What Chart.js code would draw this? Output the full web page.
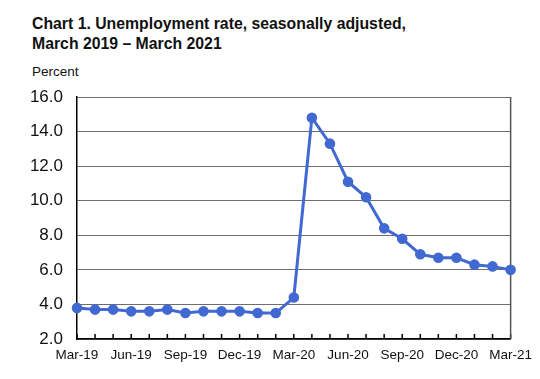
<!DOCTYPE html>
<html>
<head>
<meta charset="utf-8">
<script src="https://cdn.jsdelivr.net/npm/chart.js@4.4.0/dist/chart.umd.min.js"></script>
<style>
  body { margin: 0; background: #fff; font-family: "Liberation Sans", Arial, sans-serif; }
  #wrap { position: relative; width: 540px; height: 379px; }
  #title { position: absolute; left: 32px; top: 14px; font-weight: bold; font-size: 15.8px; line-height: 20px; color: #111; }
  #unit { position: absolute; left: 32px; top: 64px; font-size: 13.5px; line-height: 16px; color: #111; }
  canvas { position: absolute; left: 0; top: 0; }
</style>
</head>
<body>
<div id="wrap">
  <div id="title">Chart 1. Unemployment rate, seasonally adjusted,<br>March 2019 – March 2021</div>
  <div id="unit">Percent</div>
  <canvas id="chart" width="540" height="379"></canvas>
</div>
<script>
// Meses (marzo 2019 - marzo 2021)
const months = [
  'Mar-19', 'Apr-19', 'May-19', 'Jun-19', 'Jul-19', 'Aug-19', 'Sep-19', 'Oct-19', 'Nov-19',
  'Dec-19', 'Jan-20', 'Feb-20', 'Mar-20', 'Apr-20', 'May-20', 'Jun-20', 'Jul-20', 'Aug-20',
  'Sep-20', 'Oct-20', 'Nov-20', 'Dec-20', 'Jan-21', 'Feb-21', 'Mar-21'
];

// Tasa de desempleo (%)
const rates = [
  3.8, 3.7, 3.7, 3.6, 3.6, 3.7, 3.5, 3.6, 3.6, 3.6, 3.5, 3.5,
  4.4, 14.8, 13.3, 11.1, 10.2, 8.4, 7.8, 6.9, 6.7, 6.7, 6.3, 6.2, 6.0
];

// Etiquetas del eje Y
const yMin = 2;
const yMax = 16;
const yStep = 2;

// Marcas pequeñas hacia dentro y borde derecho
const frame = {
  id: 'frame',
  beforeDatasetsDraw(chart) {
    const ctx = chart.ctx;
    const area = chart.chartArea;
    const x = chart.scales.x;
    ctx.save();
    ctx.strokeStyle = '#000';
    ctx.lineWidth = 1.5;
    x.ticks.forEach((t, i) => {
      const px = x.getPixelForTick(i);
      ctx.beginPath();
      ctx.moveTo(px, area.bottom);
      ctx.lineTo(px, area.bottom - 5);
      ctx.stroke();
    });
    ctx.strokeStyle = '#555';
    ctx.beginPath();
    ctx.moveTo(area.right, area.top);
    ctx.lineTo(area.right, area.bottom);
    ctx.stroke();
    ctx.restore();
  }
};

const ctx = document.getElementById('chart').getContext('2d');
new Chart(ctx, {
  type: 'line',
  data: {
    labels: months,
    datasets: [{
      data: rates,
      borderColor: '#4169D1',
      backgroundColor: '#4169D1',
      borderWidth: 3,
      pointRadius: 3.8,
      pointHoverRadius: 3.8,
      tension: 0
    }]
  },
  options: {
    responsive: false,
    animation: false,
    layout: { padding: { left: 0, right: 27, top: 97, bottom: 0 } },
    plugins: { legend: { display: false }, tooltip: { enabled: false } },
    scales: {
      x: {
        offset: false,
        grid: { display: false, drawTicks: false },
        border: { color: '#000', width: 1.5 },
        ticks: {
          autoSkip: false,
          maxRotation: 0,
          padding: 8,
          color: '#111',
          font: { family: 'Liberation Sans', size: 13.5 },
          callback: (v, i) => (i % 3 === 0 ? months[i] : '')
        },
        afterFit: s => { s.height = 40; }
      },
      y: {
        min: yMin,
        max: yMax,
        grid: { color: '#6e6e6e', lineWidth: 1, drawTicks: false },
        border: { color: '#000', width: 1.5 },
        ticks: {
          stepSize: yStep,
          padding: 14,
          color: '#111',
          font: { family: 'Liberation Sans', size: 17 },
          callback: v => v.toFixed(1)
        },
        afterFit: s => { s.width = 77; }
      }
    }
  },
  plugins: [frame]
});
</script>
</body>
</html>
